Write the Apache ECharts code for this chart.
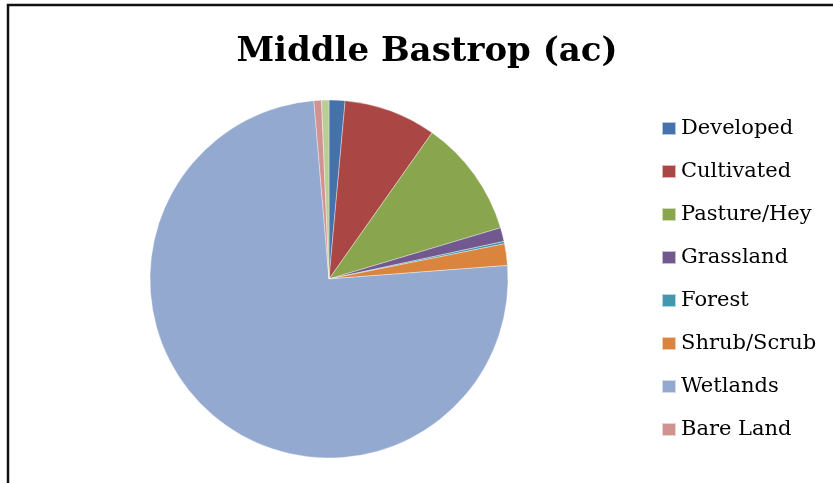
<!DOCTYPE html>
<html>
<head>
<meta charset="utf-8">
<script src="https://cdn.jsdelivr.net/npm/echarts@6/dist/echarts.min.js"></script>
<style>
html,body{margin:0;padding:0;background:#fff;}
#chart{width:833px;height:483px;}
</style>
</head>
<body>
<div id="chart"></div>
<script>
var titleText = 'Middle Bastrop (ac)';
var categories = ['Developed', 'Cultivated', 'Pasture/Hey', 'Grassland', 'Forest', 'Shrub/Scrub', 'Wetlands', 'Bare Land', 'Open Water'];
var legendNames = ['Developed', 'Cultivated', 'Pasture/Hey', 'Grassland', 'Forest', 'Shrub/Scrub', 'Wetlands', 'Bare Land'];
var values = [144, 833, 1061, 125, 22, 194, 7485, 68, 67];
var colors = ['#4672AC', '#AA4744', '#89A54E', '#71598F', '#4198AF', '#DB843D', '#93A9CF', '#D19392', '#B9CD96'];

var chart = echarts.init(document.getElementById('chart'), null, {renderer: 'canvas'});
var data = categories.map(function (c, i) {
  return {name: c, value: values[i], itemStyle: {color: colors[i]}};
});
chart.setOption({
  animation: false,
  backgroundColor: '#fff',
  title: {
    text: titleText,
    left: 422,
    textAlign: 'center',
    top: 30,
    textStyle: {fontFamily: 'DejaVu Serif', fontWeight: 'bold', fontSize: 34, color: '#000'}
  },
  legend: {
    orient: 'vertical',
    left: 656,
    top: 113,
    itemWidth: 14,
    itemHeight: 13,
    itemGap: 22,
    icon: 'rect',
    data: legendNames,
    textStyle: {fontFamily: 'DejaVu Serif', fontSize: 21, color: '#000'}
  },
  graphic: [{
    type: 'rect',
    shape: {x: 8, y: 5, width: 900, height: 600},
    style: {fill: 'none', stroke: '#111', lineWidth: 2.5},
    silent: true
  }],
  series: [{
    type: 'pie',
    center: [329, 279],
    radius: 179,
    startAngle: 90,
    clockwise: true,
    label: {show: false},
    labelLine: {show: false},
    itemStyle: {borderColor: 'rgba(255,255,255,0.6)', borderWidth: 0.6},
    emphasis: {disabled: true},
    data: data
  }]
});
</script>
</body>
</html>
